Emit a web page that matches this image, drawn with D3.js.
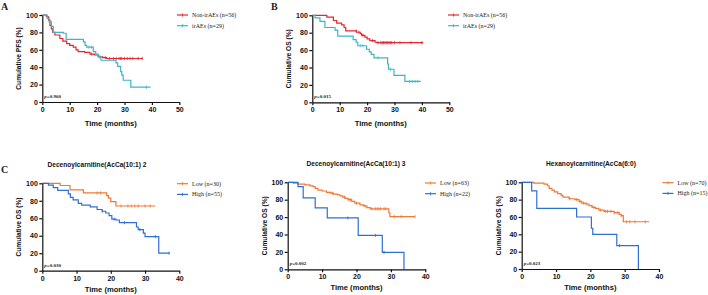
<!DOCTYPE html>
<html>
<head>
<meta charset="utf-8">
<script src="https://cdn.jsdelivr.net/npm/d3@7"></script>
<style>
    body { margin: 0; background: #fff; }
    svg { display: block; }
    .axis path, .axis line { stroke: #111; stroke-width: 1.2px; }
    .axis text { font-family: "Liberation Sans", Arial, sans-serif; font-weight: bold; font-size: 7px; fill: #111; }
    .ttl { font-family: "Liberation Sans", Arial, sans-serif; font-weight: bold; fill: #111; }
    .serif { font-family: "Liberation Serif", "Times New Roman", serif; fill: #222; }
</style>
</head>
<body>
<div id="chart"></div>
<script>
// ---- data: [time (months), survival %] steps, censor times ----
const pfsNon = [[0,100],[1.5,98],[2.3,94],[2.8,88],[3.3,84],[3.8,80],[4.6,77],[6.4,73],[7.5,70],[8.9,67],[10,65],[11.3,63],[12.3,60],[13.1,58],[15.5,57],[17.4,55],[19,54],[20.4,52],[22,51],[23.5,50],[36.6,50]];
const pfsNonCens = [18, 21, 23, 24.5, 26, 27, 28, 28.5, 29, 30, 31, 32, 33, 35, 36.5];
const pfsIr = [[0,100],[1.8,96],[2.5,92],[3.3,87],[4,80],[7.7,79],[8.7,72],[15,69],[15.6,65],[16.2,63],[18.6,58],[19.5,55],[20.4,52],[21.4,48],[26.9,45],[27.5,41],[28.6,35],[29,31],[29.5,25],[32.3,17],[39.5,17]];
const pfsIrCens = [17, 18, 38];

const osNon = [[0,100],[5.3,98],[7.7,94],[8.9,91],[10.7,89],[11.6,86],[12.2,82],[16.2,80.5],[17.5,79],[18,77],[19.2,75],[20,73],[21,71],[22.9,69],[23.5,68.5],[40.5,68.5]];
const osNonCens = [16, 17, 18.5, 22, 24, 25, 25.5, 26, 26.5, 27, 27.5, 28, 28.5, 29, 30, 32, 36, 40];
const osIr = [[0,100],[1,97],[2.8,93],[4.6,86],[8.3,83],[9.3,76],[14.9,72],[16,69],[16.6,65],[19.8,61],[20.8,58],[21.5,55],[22.5,51],[27.5,44],[27.8,38],[29.8,31],[33.8,24],[39.6,24]];
const osIrCens = [17.5, 18.5, 24, 28.5, 35.5, 36.5, 37.5, 38.5];

const dec2Low = [[0,100],[5.2,97.5],[8.1,92.5],[12,89],[18.8,86],[19.3,83],[20,79],[21.5,74],[33,74]];
const dec2LowCens = [16, 17, 23, 25, 26, 27, 28, 30, 31.5];
const dec2High = [[0,100],[1.8,98],[3.2,95],[4.5,92],[7.6,88],[8.2,84],[9,81],[10.5,77],[11.5,75],[14,73],[16,70],[17.5,68],[18.5,66],[19.5,63],[20.3,59],[21.5,58],[22.5,55],[27.5,50],[28,47],[29.5,43],[30,39],[34,20],[37.2,20]];
const dec2HighCens = [17.5, 21, 24, 28.5, 33, 37];

const dec3Low = [[0,100],[1.6,99],[3,98],[5,97],[6.5,96],[7.4,95],[8,93],[8.8,91],[10,90],[11.3,88.5],[12.5,87.5],[13.3,86.5],[14.5,85.5],[15.2,84.5],[16,83],[16.7,81.5],[17.5,80],[18.6,78],[19.5,76],[21,74],[22,73],[23,71],[24,69.5],[29.4,65],[29.7,60.5],[37,60.5]];
const dec3LowCens = [13, 16.5, 17.8, 18.2, 20, 22.5, 24.5, 25.5, 26, 26.5, 27, 28, 28.5, 31, 33, 37];
const dec3High = [[0,100],[3,95],[4.5,82],[8,70.5],[11.5,59],[20.5,39],[27.5,19.5],[33.8,0]];
const dec3HighCens = [17.5, 25.5, 28];

const hexLow = [[0,100],[3.5,99],[6.5,98],[7.5,96],[8,93],[8.8,91],[9.5,89],[10.5,87],[11.5,85],[12,83],[13.8,81],[15.5,80],[16.7,78],[17.5,76],[18.5,75],[19.6,73],[20.5,71],[21.5,70],[22.5,68],[24,66.5],[26.9,65],[28.4,63],[29,61.5],[29.6,54.5],[37.1,54.5]];
const hexLowCens = [14, 16, 17, 18, 19, 21, 23, 24.5, 25, 26, 27, 28, 29, 30.5, 31.5, 33, 36];
const hexHigh = [[0,100],[2.9,90],[4.4,70],[16,60],[20.3,47],[20.7,40],[27.7,27],[34,0]];
const hexHighCens = [28.5];

const yTicks = [0, 20, 40, 60, 80, 100];
const xTicks50 = [0, 10, 20, 30, 40, 50];
const xTicks40 = [0, 10, 20, 30, 40];

const RED = "#e8262f", TEAL = "#3db5c5", ORANGE = "#ef7935", BLUE = "#2f6fd3";

const svg = d3.select("#chart").append("svg")
    .attr("width", 708)
    .attr("height", 295);

function survAt(series, t) {
    let s = series[0][1];
    series.forEach(d => { if (d[0] <= t) s = d[1]; });
    return s;
}

function drawPanel(p) {
    let x = d3.scaleLinear().domain([0, p.xMax]).range([p.left, p.right]);
    let y = d3.scaleLinear().domain([0, 100]).range([p.bottom, p.top]);

    // curves
    let line = d3.line()
        .x(d => x(d[0]))
        .y(d => y(d[1]))
        .curve(d3.curveStepAfter);

    p.series.forEach(s => {
        svg.append("path")
            .attr("d", line(s.data))
            .attr("fill", "none")
            .attr("stroke", s.color)
            .attr("stroke-width", 1.2);

        svg.selectAll(null)
            .data(s.cens)
            .enter()
            .append("line")
            .attr("x1", d => x(d)).attr("x2", d => x(d))
            .attr("y1", d => y(survAt(s.data, d)) - 1.6)
            .attr("y2", d => y(survAt(s.data, d)) + 1.6)
            .attr("stroke", s.color)
            .attr("stroke-width", 0.8);
    });

    // axes
    svg.append("g")
        .attr("class", "axis")
        .attr("transform", "translate(0," + p.bottom + ")")
        .call(d3.axisBottom(x).tickValues(p.xTicks).tickSize(3).tickPadding(2).tickSizeOuter(0));

    svg.append("g")
        .attr("class", "axis")
        .attr("transform", "translate(" + p.left + ",0)")
        .call(d3.axisLeft(y).tickValues(yTicks).tickSize(3).tickPadding(1.5).tickSizeOuter(0));

    // axis titles
    svg.append("text")
        .attr("class", "ttl")
        .attr("x", (p.left + p.right) / 2)
        .attr("y", p.bottom + p.xTitleGap)
        .attr("text-anchor", "middle")
        .attr("font-size", 7.6)
        .text("Time (months)");

    svg.append("text")
        .attr("class", "ttl")
        .attr("transform", "translate(" + (p.left - 21) + "," + ((p.top + p.bottom) / 2) + ") rotate(-90)")
        .attr("text-anchor", "middle")
        .attr("font-size", 6.6)
        .text(p.yTitle);

    // p value
    let pv = svg.append("text")
        .attr("class", "serif")
        .attr("x", p.left + 2)
        .attr("y", p.bottom - 4)
        .attr("font-size", 5)
        .attr("font-weight", "bold");
    pv.append("tspan").attr("font-style", "italic").text("p");
    pv.append("tspan").text("=" + p.pval);

    // legend
    p.series.forEach((s, i) => {
        let ly = p.legY + i * 10.7;
        svg.append("line")
            .attr("x1", p.legX).attr("x2", p.legX + 11)
            .attr("y1", ly).attr("y2", ly)
            .attr("stroke", s.color).attr("stroke-width", 1.2);
        svg.append("line")
            .attr("x1", p.legX + 5.5).attr("x2", p.legX + 5.5)
            .attr("y1", ly - 1.6).attr("y2", ly + 1.6)
            .attr("stroke", s.color).attr("stroke-width", 0.8);
        svg.append("text")
            .attr("class", "serif")
            .attr("x", p.legX + 15)
            .attr("y", ly + 2)
            .attr("font-size", 6)
            .text(s.label);
    });

    // chart title
    if (p.title) {
        svg.append("text")
            .attr("class", "ttl")
            .attr("x", p.titleX)
            .attr("y", p.top - 16)
            .attr("text-anchor", "middle")
            .attr("font-size", 6.6)
            .text(p.title);
    }
}

const panels = [
    {left: 42.3, right: 179.3, top: 15, bottom: 102, xMax: 50, xTicks: xTicks50, yTitle: "Cumulative PFS (%)", pval: "0.960",
     legX: 177, legY: 15, xTitleGap: 24,
     series: [{data: pfsNon, cens: pfsNonCens, color: RED, label: "Non-irAEs (n=56)"},
              {data: pfsIr, cens: pfsIrCens, color: TEAL, label: "irAEs (n=29)"}]},
    {left: 312.3, right: 449.3, top: 15.3, bottom: 102.3, xMax: 50, xTicks: xTicks50, yTitle: "Cumulative OS (%)", pval: "0.015",
     legX: 448, legY: 15, xTitleGap: 24,
     series: [{data: osNon, cens: osNonCens, color: RED, label: "Non-irAEs (n=56)"},
              {data: osIr, cens: osIrCens, color: TEAL, label: "irAEs (n=29)"}]},
    {left: 42.3, right: 179.3, top: 183.3, bottom: 270.7, xMax: 40, xTicks: xTicks40, yTitle: "Cumulative OS (%)", pval: "0.030",
     legX: 177, legY: 183.7, title: "Decenoylcarnitine(AcCa(10:1) 2", titleX: 97, xTitleGap: 21.5,
     series: [{data: dec2Low, cens: dec2LowCens, color: ORANGE, label: "Low (n=30)"},
              {data: dec2High, cens: dec2HighCens, color: BLUE, label: "High (n=55)"}]},
    {left: 287.7, right: 425.3, top: 182.3, bottom: 269.3, xMax: 40, xTicks: xTicks40, yTitle: "Cumulative OS (%)", pval: "0.002",
     legX: 425, legY: 183, title: "Decenoylcarnitine(AcCa(10:1) 3", titleX: 356, xTitleGap: 21,
     series: [{data: dec3Low, cens: dec3LowCens, color: ORANGE, label: "Low (n=63)"},
              {data: dec3High, cens: dec3HighCens, color: BLUE, label: "High (n=22)"}]},
    {left: 521.7, right: 659, top: 182.3, bottom: 269, xMax: 40, xTicks: xTicks40, yTitle: "Cumulative OS (%)", pval: "0.023",
     legX: 662.5, legY: 182.7, title: "Hexanoylcarnitine(AcCa(6:0)", titleX: 591, xTitleGap: 21,
     series: [{data: hexLow, cens: hexLowCens, color: ORANGE, label: "Low (n=70)"},
              {data: hexHigh, cens: hexHighCens, color: BLUE, label: "High (n=15)"}]}
];

panels.forEach(drawPanel);

// panel letters
[["A", 1, 9.5], ["B", 271, 9.5], ["C", 1, 173]].forEach(l => {
    svg.append("text")
        .attr("class", "serif")
        .attr("x", l[1]).attr("y", l[2])
        .attr("font-size", 10)
        .attr("font-weight", "bold")
        .attr("fill", "#111")
        .text(l[0]);
});
</script>
</body>
</html>
